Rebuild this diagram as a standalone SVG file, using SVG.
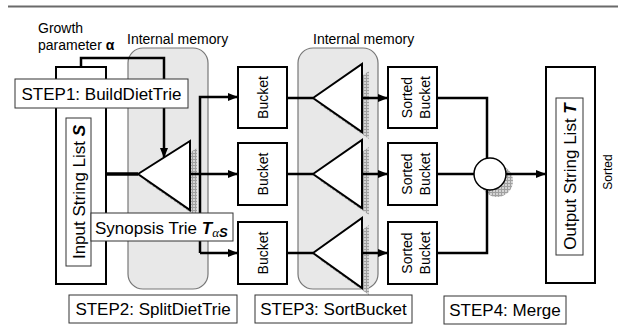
<svg xmlns="http://www.w3.org/2000/svg" width="618" height="333" viewBox="0 0 618 333">
  <style>
    text { font-family: "Liberation Sans", Arial, sans-serif; fill: #000; }
    .lbl { font-size: 17px; }
    .sm { font-size: 14px; }
    .box { fill: #fff; stroke: #000; stroke-width: 2; }
    .inbox { fill: #fff; stroke: #333; stroke-width: 1; }
    .step { fill: #fff; stroke: #333; stroke-width: 1; }
    .mem { fill: #e8e8e8; stroke: #777; stroke-width: 1.2; }
    .tri { fill: #fff; stroke: #000; stroke-width: 2; stroke-linejoin: miter; }
    .shadow { fill: url(#hatch); }
    .wire { fill: none; stroke: #000; stroke-width: 2.5; }
    .arr { marker-end: url(#head); }
  </style>
  <defs>
    <pattern id="hatch" width="3" height="3" patternUnits="userSpaceOnUse">
      <rect width="3" height="3" fill="#d4d4d4"/>
      <path d="M0 0.5H3M0.5 0V3" stroke="#a0a0a0" stroke-width="1"/>
    </pattern>
    <marker id="head" markerWidth="10" markerHeight="8" refX="9" refY="4" orient="auto" markerUnits="userSpaceOnUse">
      <path d="M0 0L10 4L0 8Z" fill="#000"/>
    </marker>
  </defs>

  <!-- header rule -->
  <line x1="8" y1="6.5" x2="618" y2="6.5" stroke="#6a6a6a" stroke-width="2"/>

  <!-- captions -->
  <text class="sm" x="38" y="33">Growth</text>
  <text class="sm" x="38" y="50">parameter <tspan font-weight="bold">α</tspan></text>
  <text class="sm" x="127" y="44">Internal memory</text>
  <text class="sm" x="313" y="44">Internal memory</text>

  <!-- internal memory regions -->
  <g id="memory1"><rect class="mem" x="128" y="48" width="80" height="241" rx="15"/></g>
  <g id="memory2"><rect class="mem" x="298" y="48" width="80" height="241" rx="15"/></g>

  <!-- drop shadows -->
  <g id="shadows">
    <polygon class="shadow" points="145,181 197,148 197,217"/>
    <polygon class="shadow" points="320,105 369,71 369,139"/>
    <polygon class="shadow" points="320,181 369,147 369,215"/>
    <polygon class="shadow" points="320,260 369,225 369,295"/>
    <circle class="shadow" cx="497" cy="181" r="16"/>
  </g>

  <!-- connectors -->
  <g id="connectors">
    <path class="wire arr" d="M81 67V58H164V157"/>
    <line x1="106" y1="174" x2="138" y2="174" stroke="#000" stroke-width="3.5"/>
    <path class="wire arr" d="M200 253V97H237"/>
    <path class="wire arr" d="M190 174H237"/>
    <path class="wire arr" d="M200 253H237"/>
    <line class="wire" x1="287" y1="98" x2="313" y2="98"/>
    <line class="wire" x1="287" y1="174" x2="313" y2="174"/>
    <line class="wire" x1="287" y1="253" x2="313" y2="253"/>
    <path class="wire arr" d="M362 98H387"/>
    <path class="wire arr" d="M362 174H387"/>
    <path class="wire arr" d="M362 253H387"/>
    <path class="wire" d="M437 98H487V160"/>
    <path class="wire" d="M437 253H487V188"/>
    <line class="wire" x1="437" y1="174" x2="474" y2="174"/>
    <path class="wire arr" d="M506 174H545"/>
  </g>

  <!-- input string list -->
  <g id="input-list">
    <rect class="box" x="56" y="67" width="50" height="217"/>
    <rect class="inbox" x="66" y="118" width="25" height="148"/>
    <text class="lbl" text-anchor="middle" transform="translate(84.5 192) rotate(-90)">Input String List <tspan font-weight="bold" font-style="italic">S</tspan></text>
  </g>

  <!-- synopsis trie -->
  <g id="synopsis-trie"><polygon class="tri" points="138,174 190,141 190,210"/></g>

  <!-- buckets -->
  <g id="bucket1">
    <rect class="box" x="238" y="67" width="49" height="61"/>
    <text class="sm" text-anchor="middle" transform="translate(267.5 97.5) rotate(-90)">Bucket</text>
  </g>
  <g id="bucket2">
    <rect class="box" x="238" y="143" width="49" height="62"/>
    <text class="sm" text-anchor="middle" transform="translate(267.5 174) rotate(-90)">Bucket</text>
  </g>
  <g id="bucket3">
    <rect class="box" x="238" y="222" width="49" height="62"/>
    <text class="sm" text-anchor="middle" transform="translate(267.5 253) rotate(-90)">Bucket</text>
  </g>

  <!-- per-bucket sort tries -->
  <g id="sort-trie1"><polygon class="tri" points="313,98 362,64 362,132"/></g>
  <g id="sort-trie2"><polygon class="tri" points="313,174 362,140 362,208"/></g>
  <g id="sort-trie3"><polygon class="tri" points="313,253 362,218 362,288"/></g>

  <!-- sorted buckets -->
  <g id="sorted-bucket1">
    <rect class="box" x="388" y="67" width="49" height="61"/>
    <text class="sm" text-anchor="middle" transform="translate(412 97.5) rotate(-90)">Sorted</text>
    <text class="sm" text-anchor="middle" transform="translate(430 97.5) rotate(-90)">Bucket</text>
  </g>
  <g id="sorted-bucket2">
    <rect class="box" x="388" y="143" width="49" height="62"/>
    <text class="sm" text-anchor="middle" transform="translate(412 174) rotate(-90)">Sorted</text>
    <text class="sm" text-anchor="middle" transform="translate(430 174) rotate(-90)">Bucket</text>
  </g>
  <g id="sorted-bucket3">
    <rect class="box" x="388" y="222" width="49" height="62"/>
    <text class="sm" text-anchor="middle" transform="translate(412 253) rotate(-90)">Sorted</text>
    <text class="sm" text-anchor="middle" transform="translate(430 253) rotate(-90)">Bucket</text>
  </g>

  <!-- merge -->
  <g id="merge"><circle cx="490" cy="174" r="16" fill="#fff" stroke="#000" stroke-width="1.5"/></g>

  <!-- output string list -->
  <g id="output-list">
    <rect class="box" x="546" y="67" width="49" height="216"/>
    <rect class="inbox" x="556" y="98" width="27" height="157"/>
    <text class="lbl" text-anchor="middle" transform="translate(575.5 176.5) rotate(-90)">Output String List <tspan font-weight="bold" font-style="italic">T</tspan></text>
  </g>
  <text class="sm" font-size="12" text-anchor="middle" transform="translate(612 172) rotate(-90)" style="font-size:12px">Sorted</text>

  <!-- step labels -->
  <g id="step1">
    <rect class="step" x="15" y="79" width="173" height="29"/>
    <text class="lbl" text-anchor="middle" x="101.5" y="100">STEP1: BuildDietTrie</text>
  </g>
  <g id="synopsis-label">
    <rect class="step" x="91" y="213" width="142" height="28"/>
    <text class="lbl" x="95" y="234">Synopsis Trie <tspan font-weight="bold" font-style="italic">T</tspan><tspan font-family="'Liberation Serif', serif" font-style="italic" font-size="13" dy="3">α</tspan><tspan font-weight="bold" font-style="italic" font-size="13">S</tspan></text>
  </g>
  <g id="step2">
    <rect class="step" x="69" y="295" width="168" height="28"/>
    <text class="lbl" text-anchor="middle" x="153" y="315">STEP2: SplitDietTrie</text>
  </g>
  <g id="step3">
    <rect class="step" x="255" y="295" width="157" height="28"/>
    <text class="lbl" text-anchor="middle" x="333.5" y="315">STEP3: SortBucket</text>
  </g>
  <g id="step4">
    <rect class="step" x="444" y="296" width="122" height="28"/>
    <text class="lbl" text-anchor="middle" x="505" y="316">STEP4: Merge</text>
  </g>
</svg>
